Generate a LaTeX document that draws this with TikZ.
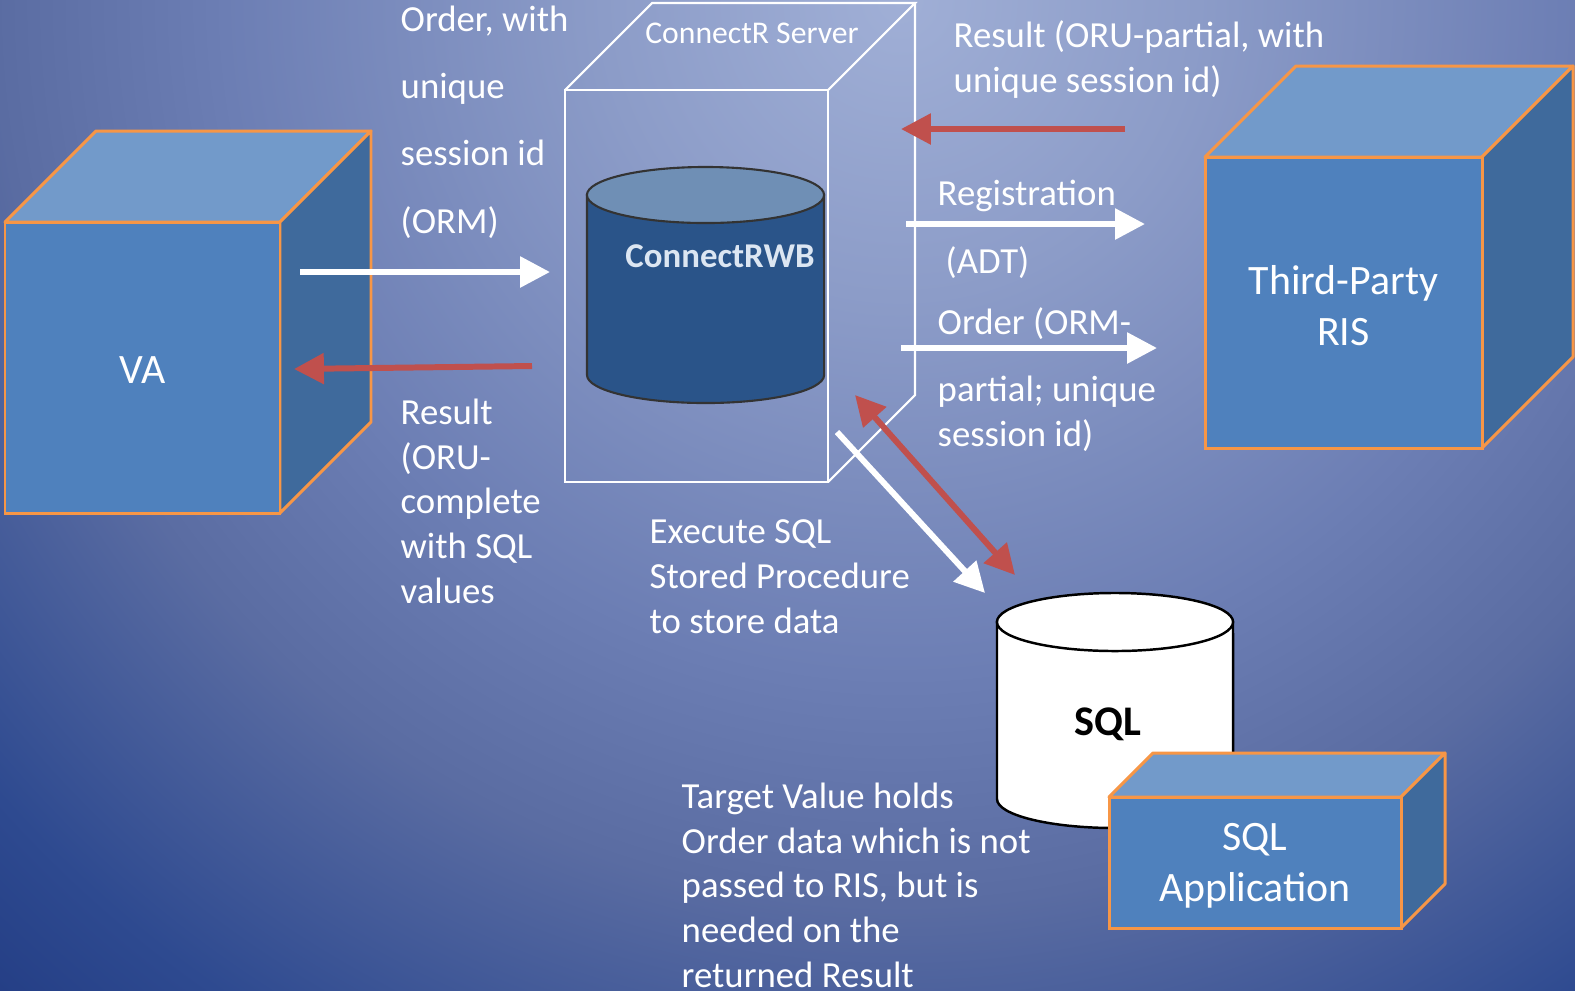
\documentclass[tikz,border=0pt]{standalone}
\usepackage{fontspec}
\setmainfont{Carlito}
\usetikzlibrary{arrows.meta}

\definecolor{cubeblue}{HTML}{4F81BD}
\definecolor{cubetop}{HTML}{729ACA}
\definecolor{cubeside}{HTML}{3F6A9C}
\definecolor{cubeedge}{HTML}{F79646}
\definecolor{arrowred}{HTML}{C0504D}
\definecolor{rwbside}{HTML}{2A5489}
\definecolor{rwbtop}{HTML}{6F8FB5}
\definecolor{rwbtext}{HTML}{DCE6F2}
\definecolor{bgc0}{HTML}{A0AFD6}
\definecolor{bgc1}{HTML}{8C9CC8}
\definecolor{bgc2}{HTML}{6C7EB4}
\definecolor{bgc3}{HTML}{5A6CA2}
\definecolor{bgc4}{HTML}{2E4A90}
\definecolor{bgc5}{HTML}{243E85}

\pgfdeclareradialshading{slidebg}{\pgfpoint{0bp}{0bp}}{color(0bp)=(bgc0); color(5.5bp)=(bgc1); color(12.5bp)=(bgc2); color(16.75bp)=(bgc3); color(22.25bp)=(bgc4); color(25bp)=(bgc5); color(50bp)=(bgc5)}

\tikzset{
    flow/.style={line width=1.7pt, -{Triangle[length=8.5pt,width=8.5pt]}},
    whiteflow/.style={flow, white},
    redflow/.style={flow, arrowred},
    txt/.style={text=white, anchor=base west, inner sep=0pt, align=left, font=\fontsize{10.45}{12.7}\selectfont},
    cubelabel/.style={text=white, inner sep=0pt, align=center, font=\fontsize{11.9}{14.5}\selectfont},
}

\begin{document}
\begin{tikzpicture}[x=0.01cm, y=-0.01cm]
    \useasboundingbox (0,0) rectangle (1575,990);
    %background
    \begin{scope}
        \clip (0,0) rectangle (1575,990);
        \shade[shading=slidebg] (900,0) circle[radius=13.5cm];
    \end{scope}
    %ConnectR server box
    \draw[white, line width=0.6pt] (565,90) rectangle (828,482);
    \draw[white, line width=0.6pt] (565,90) -- (652,3) -- (915,3) -- (828,90);
    \draw[white, line width=0.6pt] (915,3) -- (915,395) -- (828,482);
    \node[text=white, anchor=base, inner sep=0pt, font=\fontsize{9}{11}\selectfont] (srv) at (752,43) {ConnectR Server};
    %ConnectRWB cylinder
    \draw[draw=black!80, line width=0.6pt, fill=rwbside] (587,195) -- (587,375)
        arc[start angle=180, end angle=360, x radius=1.185cm, y radius=0.28cm] -- (824,195) -- cycle;
    \draw[draw=black!80, line width=0.6pt, fill=rwbtop] (705.5,195) ellipse[x radius=1.185cm, y radius=0.28cm];
    \node[text=rwbtext, anchor=base, inner sep=0pt, font=\fontsize{9.9}{12}\selectfont\bfseries] (rwb) at (720,267) {ConnectRWB};
    %SQL cylinder
    \draw[draw=black, line width=0.7pt, fill=white] (997,622) -- (997,799)
        arc[start angle=180, end angle=360, x radius=1.18cm, y radius=0.29cm] -- (1233,622) -- cycle;
    \draw[draw=black, line width=0.7pt, fill=white] (1115,622) ellipse[x radius=1.18cm, y radius=0.29cm];
    \node[text=black, anchor=base, inner sep=0pt, font=\fontsize{12}{14}\selectfont\bfseries] (sql) at (1108,735) {SQL};
    %cubes
    \foreach \name/\xa/\ya/\xb/\yb/\d/\txt in {va/5/222/280/513/91/VA,
        ris/1205/157/1482/448/91/{Third-Party\\RIS},
        app/1109/797/1401/928/44/{SQL\\Application}}
        {%
            \draw[fill=cubetop, draw=cubeedge, line width=0.85pt, line join=round]
                (\xa,\ya) -- ({\xa+\d},{\ya-\d}) -- ({\xb+\d},{\ya-\d}) -- (\xb,\ya) -- cycle;
            \draw[fill=cubeside, draw=cubeedge, line width=0.85pt, line join=round]
                (\xb,\ya) -- ({\xb+\d},{\ya-\d}) -- ({\xb+\d},{\yb-\d}) -- (\xb,\yb) -- cycle;
            \draw[fill=cubeblue, draw=cubeedge, line width=0.85pt] (\xa,\ya) rectangle (\xb,\yb);
            \node[cubelabel] (\name) at ({(\xa+\xb)/2},{(\ya+\yb)/2+3}) {\txt};
        }
    %arrow ends
    \coordinate (ormS) at (300,272);
    \coordinate (ormE) at (550,272);
    \coordinate (oruS) at (532,366);
    \coordinate (oruE) at (294,369);
    \coordinate (risS) at (1125,129);
    \coordinate (risE) at (901,129);
    \coordinate (adtS) at (906,224);
    \coordinate (adtE) at (1145,224);
    \coordinate (ordS) at (901,348);
    \coordinate (ordE) at (1157,348);
    \coordinate (spS) at (837,432);
    \coordinate (spE) at (985,593);
    \coordinate (tvA) at (855,395);
    \coordinate (tvB) at (1015,575);
    %draw arrows
    \draw[whiteflow] (ormS) -- (ormE);
    \draw[redflow] (oruS) -- (oruE);
    \draw[redflow] (risS) -- (risE);
    \draw[whiteflow] (adtS) -- (adtE);
    \draw[whiteflow] (ordS) -- (ordE);
    \draw[whiteflow] (spS) -- (spE);
    \draw[redflow, {Triangle[length=8.5pt,width=8.5pt]}-{Triangle[length=8.5pt,width=8.5pt]}] (tvA) -- (tvB);
    %labels (anchored at the baseline of the last line)
    \node[txt, font=\fontsize{10.45}{19.07}\selectfont] (ormtxt) at (400,233) {Order, with\\unique\\session id\\(ORM)};
    \node[txt] (orutxt) at (400,603) {Result\\(ORU-\\complete\\with SQL\\values};
    \node[txt] (ristxt) at (953,92) {Result (ORU-partial, with\\unique session id)};
    \node[txt] (adttxt) at (937,273) {Registration\\[6.4pt]\hspace*{0.08cm}(ADT)};
    \node[txt] (ordtxt) at (937,446) {Order (ORM-\\[6.4pt]partial; unique\\session id)};
    \node[txt] (sptxt) at (649,633) {Execute SQL\\Stored Procedure\\to store data};
    \node[txt] (tvtxt) at (681,987) {Target Value holds\\Order data which is not\\passed to RIS, but is\\needed on the\\returned Result};
\end{tikzpicture}
\end{document}
